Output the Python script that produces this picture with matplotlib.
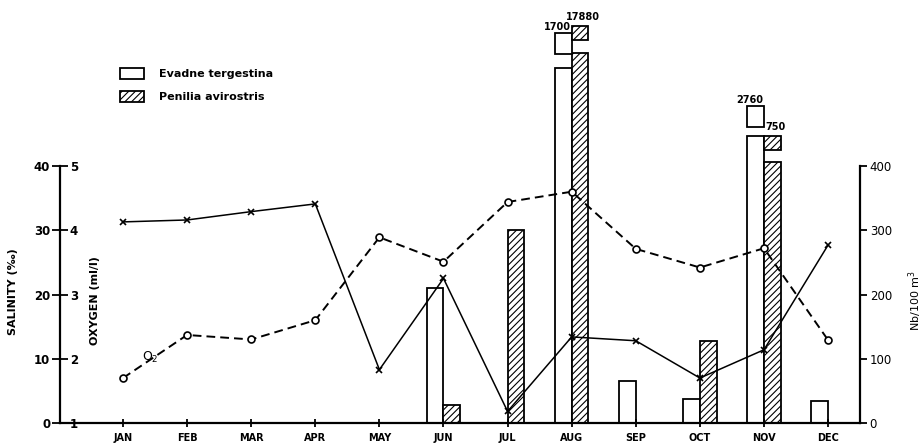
import matplotlib
matplotlib.use('Agg')
import matplotlib.pyplot as plt
from matplotlib.patches import Rectangle

# ---------------- data ----------------
months = ['JAN', 'FEB', 'MAR', 'APR', 'MAY', 'JUN', 'JUL', 'AUG', 'SEP', 'OCT', 'NOV', 'DEC']
salinity = [31.3, 31.6, 32.9, 34.1, 8.3, 22.5, 1.8, 13.4, 12.8, 7.0, 11.4, 27.7]      # ‰
oxygen = [1.70, 2.37, 2.30, 2.60, 3.89, 3.51, 4.44, 4.60, 3.71, 3.42, 3.72, 2.29]     # ml/l
# Nb/100 m3 (bars drawn to scale; AUG and NOV are broken bars)
evadne = [0, 0, 0, 0, 0, 210, 0, 552, 65, 38, 446, 35]
penilia = [0, 0, 0, 0, 0, 28, 300, 576, 0, 128, 407, 0]
# broken-bar caps: month index -> (bottom, top) and printed totals
evadne_caps = {7: (574, 607), 10: (461, 493)}
penilia_caps = {7: (596, 618), 10: (425, 447)}
evadne_totals = {7: '1700', 10: '2760'}
penilia_totals = {7: '17880', 10: '750'}

# ---------------- figure ----------------
W, H = 924, 445
fig = plt.figure(figsize=(W / 100, H / 100), dpi=100)
plt.rcParams['font.family'] = ['DejaVu Sans']
plt.rcParams['hatch.linewidth'] = 0.8

x0, x1, ybot = 60, 860, 423
ax = fig.add_axes([x0 / W, (H - ybot) / H, (x1 - x0) / W, ybot / H])
ax2 = ax.twinx()

px_per_month = 64.1
jan_px = 123
xl = 1 - (jan_px - x0) / px_per_month
xr = 1 + (x1 - jan_px) / px_per_month
ax.set_xlim(xl, xr)
top_units = ybot / 0.6425          # right-axis units at figure top
ax2.set_ylim(0, top_units)
ax.set_ylim(0, top_units / 10)

xs = list(range(1, 13))
w = 0.26

# bars on ax2
for i, (xv, e, p) in enumerate(zip(xs, evadne, penilia)):
    if e > 0:
        ax2.bar(xv - w, e, width=w, align='edge', facecolor='white', edgecolor='black', linewidth=1.3)
    if p > 0:
        ax2.bar(xv, p, width=w, align='edge', facecolor='white', edgecolor='black',
                linewidth=1.3, hatch='/////')
for i, (b, t) in evadne_caps.items():
    ax2.bar(xs[i] - w, t - b, bottom=b, width=w, align='edge', facecolor='white',
            edgecolor='black', linewidth=1.3)
    ax2.text(xs[i] - w / 2 - 0.1, t + 2, evadne_totals[i], ha='center', va='bottom',
             fontsize=7, fontweight='bold')
for i, (b, t) in penilia_caps.items():
    ax2.bar(xs[i], t - b, bottom=b, width=w, align='edge', facecolor='white',
            edgecolor='black', linewidth=1.3, hatch='/////')
    ax2.text(xs[i] + w / 2 + 0.05, t + 6, penilia_totals[i], ha='center', va='bottom',
             fontsize=7, fontweight='bold')

# lines on ax (drawn above bars)
ax.set_zorder(ax2.get_zorder() + 1)
ax.patch.set_visible(False)
ax.plot(xs, salinity, color='black', linewidth=1.1, marker='x', markersize=5,
        markeredgewidth=1.2)
oxy_in_sal = [(o - 1) * 10 for o in oxygen]
ax.plot(xs, oxy_in_sal, color='black', linewidth=1.4, dashes=(4.5, 2.6), marker='o',
        markersize=5, markerfacecolor='white', markeredgewidth=1.2)
ax.text(xs[1] - 0.7, 9.6, 'O$_2$', fontsize=9)

# spines
for s in ['top', 'right']:
    ax.spines[s].set_visible(False)
for s in ['top', 'left', 'bottom']:
    ax2.spines[s].set_visible(False)
ax.spines['left'].set_bounds(0, 40)
ax.spines['left'].set_linewidth(1.6)
ax.spines['bottom'].set_linewidth(1.6)
ax2.spines['right'].set_bounds(0, 400)
ax2.spines['right'].set_linewidth(1.6)

# ticks
ax.set_xticks(xs)
ax.set_xticklabels(months, fontsize=7, fontweight='bold')
ax.tick_params(axis='x', direction='inout', length=6, width=1.3, pad=4)
ax.set_yticks([0, 10, 20, 30, 40])
ax.set_yticklabels(['0', '10', '20', '30', '40'], fontsize=8.5, fontweight='bold')
ax.tick_params(axis='y', direction='inout', length=12, width=1.3, pad=1)
ax2.set_yticks([0, 100, 200, 300, 400])
ax2.set_yticklabels(['0', '100', '200', '300', '400'], fontsize=8.5)
ax2.tick_params(axis='y', direction='out', length=5, width=1.3, pad=2)

sec = ax.secondary_yaxis(0, functions=(lambda s: 1 + s / 10, lambda o: (o - 1) * 10))
sec.set_alignment('right')
sec.set_yticks([1, 2, 3, 4, 5])
sec.set_yticklabels(['1', '2', '3', '4', '5'], fontsize=8.5, fontweight='bold')
sec.tick_params(axis='y', length=0, pad=7)
sec.spines['right'].set_visible(False)
sec.spines['left'].set_visible(False)
sec.set_ylabel('OXYGEN (ml/l)', fontsize=8, fontweight='bold')
sec.yaxis.set_label_coords(0.0375, 0.29, transform=ax.transAxes)

ax.set_ylabel('SALINITY (‰)', fontsize=8, fontweight='bold')
ax.yaxis.set_label_coords(-0.0525, 0.31)
ax2.set_ylabel('Nb/100 m$^3$', fontsize=8)
ax2.yaxis.set_label_coords(1.058, 0.29)

# legend
h1 = Rectangle((0, 0), 1, 1, facecolor='white', edgecolor='black', linewidth=1.3)
h2 = Rectangle((0, 0), 1, 1, facecolor='white', edgecolor='black', linewidth=1.3, hatch='/////')
fig.legend([h1, h2], ['Evadne tergestina', 'Penilia avirostris'], loc='upper left',
           bbox_to_anchor=(120 / W, 1 - 68 / H), frameon=False,
           handlelength=2.2, handleheight=1.1, labelspacing=1.1, handletextpad=1.3,
           borderpad=0, borderaxespad=0, prop={'size': 8, 'weight': 'bold'})

fig.savefig('out.png', dpi=100)
